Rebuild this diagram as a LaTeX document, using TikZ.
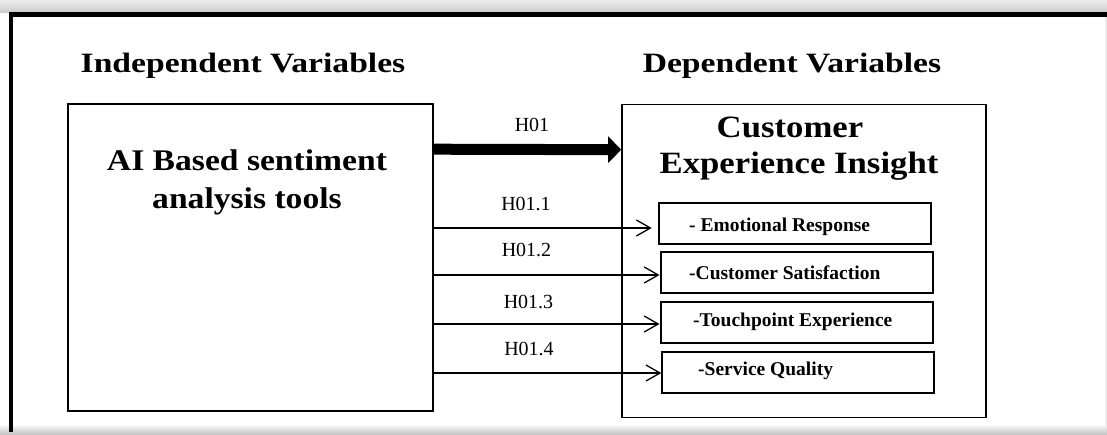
\documentclass[tikz,border=0pt]{standalone}
\usepackage{fontspec}
\setmainfont{Liberation Serif}
\newfontfamily\titlefont[FakeStretch=1.2]{Liberation Serif}
\newfontfamily\boxfont[FakeStretch=1.12]{Liberation Serif}
\usetikzlibrary{arrows.meta}
\begin{document}
\begin{tikzpicture}[x=1pt,y=-1pt,
  box/.style={draw, line width=1.6pt, inner sep=0pt},
  subbox/.style={draw, line width=2pt, inner sep=0pt, minimum width=272pt, minimum height=41pt},
  title/.style={font=\titlefont\bfseries\fontsize{28}{28}\selectfont, inner sep=0pt, anchor=base},
  bigtext/.style={font=\boxfont\bfseries\fontsize{30}{30}\selectfont, inner sep=0pt, anchor=base},
  custtext/.style={font=\boxfont\bfseries\fontsize{31}{31}\selectfont, inner sep=0pt, anchor=base},
  itemtext/.style={font=\bfseries\fontsize{19.5}{19.5}\selectfont, inner sep=0pt, anchor=base west},
  hlabel/.style={font=\fontsize{20}{20}\selectfont, inner sep=0pt, anchor=base},
  thickarrow/.style={line width=11pt, -{Triangle[length=13pt,width=26pt]}},
  thinarrow/.style={line width=1.3pt, -{Straight Barb[length=14pt,width=16pt,line width=1.3pt]}}
]
\useasboundingbox (0,0) rectangle (1107,434);
% frame shadows
\shade[top color=gray!15, bottom color=gray!40] (0,0) rectangle (1107,12);
\shade[top color=gray!10, bottom color=gray!45] (0,426) rectangle (1107,434);
\fill[gray!15] (1105,12) rectangle (1107,426);
\fill[black] (9,12) rectangle (1107,17);
\fill[black] (9,12) rectangle (13,432);

% titles
\node[title] (indep) at (243,72) {Independent Variables};
\node[title] (dep) at (792,72) {Dependent Variables};

% left box
\node[box, minimum width=365pt, minimum height=307pt] (L) at (250.5,257.5) {};
\node[bigtext] (ai1) at (247,170) {AI Based sentiment};
\node[bigtext] (ai2) at (247,208) {analysis tools};

% right box
\node[box, minimum width=364pt, minimum height=313pt] (R) at (804,261) {};
\node[custtext] (cu1) at (790,137) {Customer};
\node[custtext] (cu2) at (799,173) {Experience Insight};

% sub boxes
\node[subbox] (S1) at (794.7,223.7) {};
\node[subbox] (S2) at (796.5,272.2) {};
\node[subbox] (S3) at (796.5,322.2) {};
\node[subbox] (S4) at (798.3,372.2) {};
\node[itemtext] (t1) at (689,231.7) {- Emotional Response};
\node[itemtext] (t2) at (689,279) {-Customer Satisfaction};
\node[itemtext] (t3) at (693,326.7) {-Touchpoint Experience};
\node[itemtext] (t4) at (698,375) {-Service Quality};

% main arrow
\draw[thickarrow] ([yshift=-46pt]L.north east) -- ([yshift=-46pt]R.north west);
\node[hlabel] (h0) at (532,131) {H01};

% thin arrows
\coordinate (a1) at ([xshift=-6pt,yshift=-4.3pt]S1.west);
\coordinate (a2) at ([yshift=-2.8pt]S2.west);
\coordinate (a3) at ([yshift=-1.8pt]S3.west);
\coordinate (a4) at ([yshift=-0.8pt]S4.west);
\draw[thinarrow] (L.east |- a1) -- (a1);
\draw[thinarrow] (L.east |- a2) -- (a2);
\draw[thinarrow] (L.east |- a3) -- (a3);
\draw[thinarrow] (L.east |- a4) -- (a4);
\node[hlabel] (h1) at (526,210) {H01.1};
\node[hlabel] (h2) at (526.5,256.7) {H01.2};
\node[hlabel] (h3) at (528.5,308) {H01.3};
\node[hlabel] (h4) at (529,355.7) {H01.4};
\end{tikzpicture}
\end{document}
